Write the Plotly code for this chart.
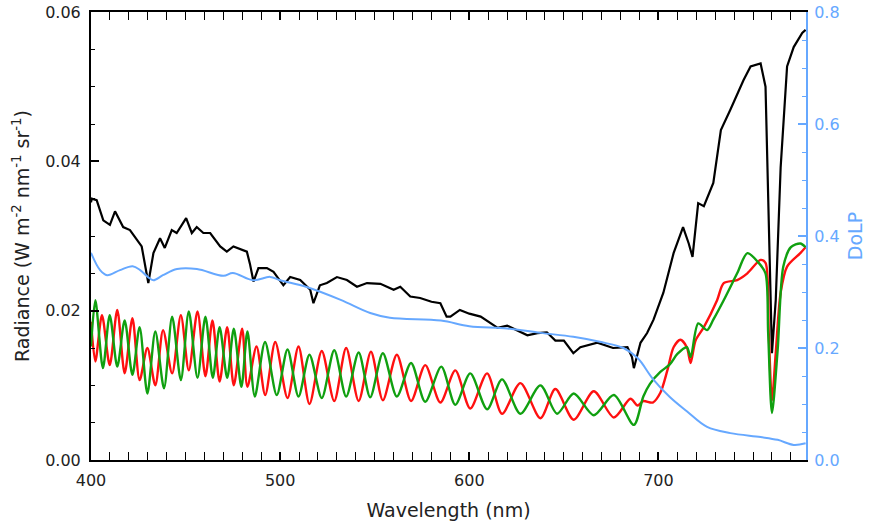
import plotly.graph_objects as go

# radiance (black)
wl_black = [400, 400.4, 403, 406.5, 410, 412.7, 417, 420.6, 426.8, 430.3, 433, 436.5, 439, 442.7,
            445.3, 450.3, 453.3, 455.9, 459.4, 463, 468.3, 471.8, 475.3, 482.4, 484, 485.9, 488.5,
            493, 496.5, 501.7, 505.3, 510.6, 515.9, 517.6, 521, 524.7, 530, 535.3, 540.6, 545.9,
            553, 560, 563.5, 568.8, 574, 580, 584.7, 588, 590, 595, 600, 606, 615, 620, 630.7,
            636, 641, 645.5, 650, 655, 658.7, 667.7, 676, 683.6, 686, 687, 690.5, 694, 697.4,
            702.6, 708, 713, 716, 718, 721, 724, 729, 733, 738, 745, 748.7, 754, 756.6, 758, 760,
            762, 764.6, 768, 771.5, 776, 777.8]
rad_black = [0.0345, 0.035, 0.0348, 0.0321, 0.0315, 0.0333, 0.0312, 0.0308, 0.0286, 0.0237, 0.0277,
             0.0297, 0.0284, 0.0308, 0.0304, 0.0324, 0.0304, 0.0312, 0.0304, 0.0304, 0.0286, 0.0279,
             0.0286, 0.0279, 0.0263, 0.0239, 0.0257, 0.0257, 0.0252, 0.0234, 0.0245, 0.0241, 0.0228,
             0.021, 0.0234, 0.0237, 0.0245, 0.0241, 0.0232, 0.0237, 0.0236, 0.0228, 0.0232, 0.0219,
             0.0217, 0.0212, 0.021, 0.0192, 0.0192, 0.0201, 0.0196, 0.0192, 0.0177, 0.018, 0.0167,
             0.017, 0.0171, 0.016, 0.016, 0.0143, 0.0151, 0.0157, 0.015, 0.0151, 0.0138, 0.0123,
             0.0157, 0.017, 0.0188, 0.0224, 0.0277, 0.0312, 0.029, 0.0272, 0.0344, 0.034, 0.0371,
             0.0442, 0.0469, 0.0509, 0.0527, 0.0531, 0.05, 0.0348, 0.0143, 0.0214, 0.0392, 0.0527,
             0.0553, 0.0572, 0.0576]

# first polarised channel (red)
wl_red = [400, 402.3, 405.8, 409.9, 413.9, 417.8, 421.9, 425.7, 429.8, 434, 438.1, 442.9, 447.5,
          451.7, 456.3, 460.5, 464.2, 468, 472, 475.5, 479.9, 482.7, 487.5, 492.1, 497.4, 503.9,
          509.7, 515.5, 522, 528.6, 534.9, 541.5, 548, 554.3, 561.7, 569.2, 576.7, 584.7, 592.6,
          600.5, 609.4, 617.3, 627, 637.6, 645.5, 655.2, 665.8, 676.4, 685.2, 689, 692, 697, 701,
          704.7, 708, 711.6, 715, 717, 719.6, 724, 731, 734.5, 741.6, 747, 754, 756.6, 758.3, 760,
          762, 764.6, 768, 775, 777.8]
rad_red = [0.0185, 0.0132, 0.0194, 0.0127, 0.0201, 0.0116, 0.019, 0.0107, 0.015, 0.010, 0.0174,
           0.0116, 0.0194, 0.012, 0.0199, 0.0112, 0.0187, 0.0105, 0.0178, 0.010, 0.0176, 0.0098,
           0.0152, 0.0087, 0.0158, 0.0083, 0.0152, 0.0075, 0.0146, 0.0079, 0.015, 0.0079, 0.0145,
           0.008, 0.0141, 0.0079, 0.0127, 0.0077, 0.012, 0.0069, 0.0116, 0.0062, 0.0103, 0.0056,
           0.0095, 0.0054, 0.0092, 0.0057, 0.0082, 0.0073, 0.0079, 0.0077, 0.009, 0.012, 0.0151,
           0.0161, 0.0151, 0.013, 0.016, 0.0178, 0.0214, 0.0237, 0.0241, 0.025, 0.0268, 0.0264,
           0.017, 0.008, 0.0143, 0.0224, 0.0259, 0.0277, 0.0285]

# second polarised channel (green)
wl_green = [400, 402.3, 406.3, 409.9, 413.9, 417.8, 421.9, 425.7, 429.8, 434, 438.6, 442.9, 447.5,
            451.7, 456.3, 460.5, 464.4, 468, 472, 475.5, 479.5, 482.7, 486.6, 492, 498.2, 503.9,
            509.7, 515.5, 522, 528.6, 534.9, 541.5, 547.6, 554.3, 561.7, 569.2, 576.7, 585.2, 592.6,
            600.5, 609.4, 617.3, 627, 637.6, 646.4, 655.2, 665.8, 676.4, 687, 692, 695.5, 701, 706,
            710, 715, 717, 721, 725.7, 729, 734.5, 741.6, 747, 753, 756.6, 758, 760, 763, 766, 770,
            775, 777.8]
rad_green = [0.0152, 0.0214, 0.0123, 0.0194, 0.0125, 0.0187, 0.0114, 0.0178, 0.0089, 0.0172, 0.0096,
             0.0192, 0.0107, 0.0199, 0.011, 0.0192, 0.011, 0.0178, 0.011, 0.0176, 0.0098, 0.0172,
             0.0085, 0.0158, 0.0087, 0.0148, 0.0085, 0.0141, 0.0083, 0.0147, 0.0085, 0.0144, 0.0084,
             0.0143, 0.0085, 0.013, 0.0078, 0.0125, 0.0074, 0.0116, 0.0068, 0.0108, 0.0062, 0.010,
             0.0062, 0.0089, 0.006, 0.0087, 0.0047, 0.0085, 0.0102, 0.0118, 0.0128, 0.0142, 0.0151,
             0.0138, 0.0183, 0.0174, 0.0188, 0.0214, 0.025, 0.0277, 0.0264, 0.025, 0.017, 0.0063,
             0.0147, 0.0259, 0.0285, 0.029, 0.0285]

# degree of linear polarisation (right axis)
wl_dolp = [400, 404.8, 408.5, 415.3, 422, 426, 430, 433, 438, 445.5, 456, 470, 475, 485.7, 494.7,
           500, 514, 532, 547.6, 558, 585, 600, 620, 637.6, 655, 669, 681.5, 689, 697, 706, 715,
           725.7, 738, 754, 763, 771.5, 777.8]
dolp = [0.37, 0.339, 0.33, 0.339, 0.346, 0.339, 0.327, 0.321, 0.33, 0.341, 0.341, 0.329, 0.334,
        0.321, 0.327, 0.321, 0.309, 0.286, 0.2625, 0.254, 0.249, 0.239, 0.235, 0.227, 0.22, 0.211,
        0.2, 0.182, 0.145, 0.1125, 0.087, 0.059, 0.048, 0.041, 0.036, 0.027, 0.03]

blue = "#66a8ff"
font = "DejaVu Sans"

fig = go.Figure()
fig.add_trace(go.Scatter(x=wl_dolp, y=dolp, yaxis="y2", mode="lines",
                         line=dict(color=blue, width=2, shape="spline")))
fig.add_trace(go.Scatter(x=wl_black, y=rad_black, mode="lines",
                         line=dict(color="black", width=2.2)))
fig.add_trace(go.Scatter(x=wl_red, y=rad_red, mode="lines",
                         line=dict(color="#ff1010", width=2.4, shape="spline", smoothing=0.8)))
fig.add_trace(go.Scatter(x=wl_green, y=rad_green, mode="lines",
                         line=dict(color="#10a010", width=2.4, shape="spline", smoothing=0.8)))

fig.update_layout(
    width=872, height=531,
    margin=dict(l=91, r=66, t=12, b=71, autoexpand=False),
    paper_bgcolor="white", plot_bgcolor="white",
    showlegend=False,
    font=dict(family=font, size=16, color="#222"),
    xaxis=dict(
        range=[400, 778], tick0=400, dtick=100, ticks="inside", ticklen=8,
        tickwidth=1.5, tickcolor="black", showline=True, linecolor="black", linewidth=2,
        mirror="allticks", showgrid=False, zeroline=False, automargin=False,
        ticklabelstandoff=5,
        minor=dict(tick0=400, dtick=10, ticks="inside", ticklen=4, tickwidth=1.2,
                   tickcolor="black", showgrid=False),
        title=dict(text="Wavelength (nm)", standoff=14),
    ),
    yaxis=dict(
        range=[0, 0.06], tick0=0, dtick=0.02, tickformat=".2f",
        ticks="inside", ticklen=8, tickwidth=1.5, tickcolor="black", automargin=False,
        showline=True, linecolor="black", linewidth=2, showgrid=False, zeroline=False,
        ticklabelstandoff=5, ticklabeloverflow="allow",
        minor=dict(dtick=0.005, ticks="inside", ticklen=4, tickwidth=1.2,
                   tickcolor="black", showgrid=False),
        title=dict(text="Radiance (W m<sup>-2</sup> nm<sup>-1</sup> sr<sup>-1</sup>)", standoff=11),
    ),
    yaxis2=dict(
        range=[0, 0.8], tick0=0, dtick=0.2, tickformat=".1f", automargin=False,
        overlaying="y", side="right", ticks="inside", ticklen=8, tickwidth=1.5, tickcolor=blue,
        showline=True, linecolor=blue, linewidth=2, showgrid=False, zeroline=False,
        tickfont=dict(color=blue), ticklabelstandoff=3, ticklabeloverflow="allow",
        minor=dict(dtick=0.05, ticks="inside", ticklen=4, tickwidth=1.2,
                   tickcolor=blue, showgrid=False),
        title=dict(text="DoLP", font=dict(color=blue), standoff=10),
    ),
)

# drop the default 8 px body margin so the figure fills the window exactly
fig.write_html("out.html", config={"displayModeBar": False},
               post_script="document.body.style.margin = '0';")
